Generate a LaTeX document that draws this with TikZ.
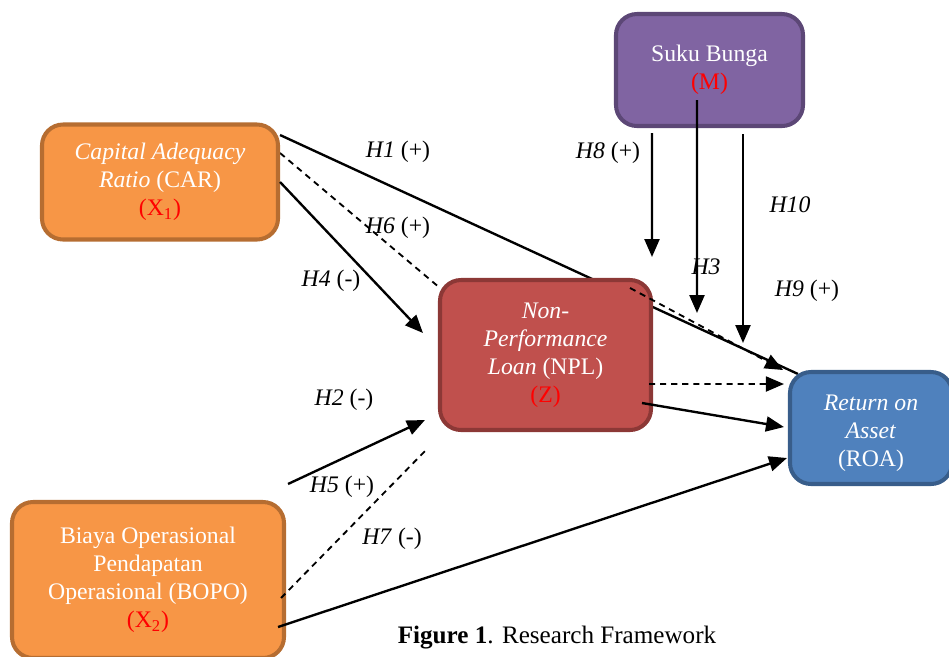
\documentclass[tikz,border=0pt]{standalone}
\usepackage{fontspec}
\setmainfont{Liberation Serif}
\usetikzlibrary{arrows.meta,backgrounds}
\definecolor{cOrg}{HTML}{F79646}
\definecolor{cOrgLn}{HTML}{B66D31}
\definecolor{cRed}{HTML}{C0504D}
\definecolor{cRedLn}{HTML}{8C3836}
\definecolor{cPur}{HTML}{8064A2}
\definecolor{cPurLn}{HTML}{5C4776}
\definecolor{cBlu}{HTML}{4F81BD}
\definecolor{cBluLn}{HTML}{385D8A}
\definecolor{cCode}{HTML}{FF0000}
\tikzset{
  var/.style={draw, rounded corners=0.42cm, line width=2.3pt, align=center,
    text=white, inner sep=2pt, font=\fontsize{13.5}{15.9}\selectfont},
  indep/.style={var, fill=cOrg, draw=cOrgLn},
  medi/.style={var, fill=cRed, draw=cRedLn},
  moder/.style={var, fill=cPur, draw=cPurLn},
  depv/.style={var, fill=cBlu, draw=cBluLn},
  vartext/.style={align=center, text=white, inner sep=1pt, font=\fontsize{13.5}{15.9}\selectfont},
  hyp/.style={inner sep=1pt, font=\fontsize{13.5}{15.9}\selectfont},
  effect/.style={-{Triangle[length=3.6mm,width=3mm]}, line width=1.35pt},
  plain/.style={line width=1.35pt},
  indirect/.style={line width=1.05pt, dash pattern=on 3.5pt off 2.8pt},
}

\begin{document}
\begin{tikzpicture}
    \useasboundingbox (0,0) rectangle (18.98,-13.12);
    % --- variables, explicit coordinates ---
    \node[indep, minimum width=4.72cm, minimum height=2.3cm] (car) at (3.2,-3.64)
      {\textit{Capital Adequacy}\\\textit{Ratio} (CAR)\\\textcolor{cCode}{(X\textsubscript{1})}};
    \node[indep, minimum width=5.44cm, minimum height=3.12cm] (bopo) at (2.96,-11.6)
      {Biaya Operasional\\Pendapatan\\Operasional (BOPO)\\\textcolor{cCode}{(X\textsubscript{2})}};
    \node[moder, minimum width=3.74cm, minimum height=2.24cm] (suku) at (14.19,-1.4)
      {Suku Bunga\\\textcolor{cCode}{(M)}};
    \node[medi, minimum width=4.22cm, minimum height=3.0cm] (npl) at (10.91,-7.1)
      {\textit{Non-}\\\textit{Performance}\\\textit{Loan} (NPL)\\\textcolor{cCode}{(Z)}};
    \node[depv, minimum width=3.24cm, minimum height=2.24cm] (roa) at (17.42,-8.56) {};
    \node[vartext] (roatxt) at ([yshift=-0.1cm]roa.center)
      {\textit{Return on}\\\textit{Asset}\\(ROA)};
    % --- free arrow tips under the moderator ---
    \coordinate (h8tip)  at (13.04,-5.14);
    \coordinate (h3tip)  at (13.94,-6.26);
    \coordinate (h10tip) at (14.86,-6.86);
    % --- paths that run under the boxes ---
    \begin{scope}[on background layer]
      \draw[plain] ([yshift=0.94cm]car.east) -- ([xshift=0.2cm,yshift=-0.08cm]roa.north west);
      \draw[indirect] ([yshift=0.58cm]car.east) -- ([xshift=0.04cm,yshift=-0.2cm]npl.north west);
    \end{scope}
    % --- direct effects ---
    \draw[effect] (car.east) -- ([xshift=-0.3cm,yshift=0.44cm]npl.west);
    \draw[effect] ([xshift=0.04cm,yshift=0.32cm]bopo.north east)
      -- ([xshift=-0.26cm,yshift=-1.3cm]npl.west);
    \draw[indirect] ([xshift=-0.1cm,yshift=-0.36cm]bopo.east)
      -- ([xshift=-0.2cm,yshift=-0.32cm]npl.south west);
    \draw[effect] ([xshift=-0.16cm,yshift=-0.94cm]bopo.east)
      -- ([xshift=-0.02cm,yshift=-0.6cm]roa.west);
    \draw[effect, indirect] ([xshift=-0.46cm,yshift=-0.2cm]npl.north east)
      -- ([xshift=-0.1cm]roa.north west);
    \draw[effect, indirect] ([xshift=-0.08cm,yshift=-0.58cm]npl.east)
      -- ([xshift=-0.08cm,yshift=0.88cm]roa.west);
    \draw[effect] ([xshift=-0.22cm,yshift=-0.96cm]npl.east)
      -- ([xshift=-0.08cm,yshift=0.02cm]roa.west);
    % --- moderation ---
    \draw[effect] ([xshift=-1.15cm,yshift=-0.1cm]suku.south) -- (h8tip);
    \draw[effect] ([xshift=-0.25cm,yshift=-0.6cm]suku.center) -- (h3tip);
    \draw[effect] ([xshift=0.67cm,yshift=-0.12cm]suku.south) -- (h10tip);
    % --- hypothesis labels ---
    \node[hyp] (h1)  at (7.96,-3.04)  {\textit{H1} (+)};
    \node[hyp] (h6)  at (7.96,-4.56)  {\textit{H6} (+)};
    \node[hyp] (h4)  at (6.62,-5.62)  {\textit{H4} (-)};
    \node[hyp] (h2)  at (6.88,-8.0)   {\textit{H2} (-)};
    \node[hyp] (h5)  at (6.84,-9.74)  {\textit{H5} (+)};
    \node[hyp] (h7)  at (7.84,-10.78) {\textit{H7} (-)};
    \node[hyp] (h8)  at (12.16,-3.06) {\textit{H8} (+)};
    \node[hyp] (h10) at (15.8,-4.1)   {\textit{H10}};
    \node[hyp] (h3)  at (14.12,-5.34) {\textit{H3}};
    \node[hyp] (h9)  at (16.14,-5.82) {\textit{H9} (+)};
    % --- caption ---
    \node[hyp, font=\fontsize{14.3}{16}\selectfont] (cap) at (11.14,-12.76)
      {\textbf{Figure 1}. Research Framework};
\end{tikzpicture}
\end{document}
